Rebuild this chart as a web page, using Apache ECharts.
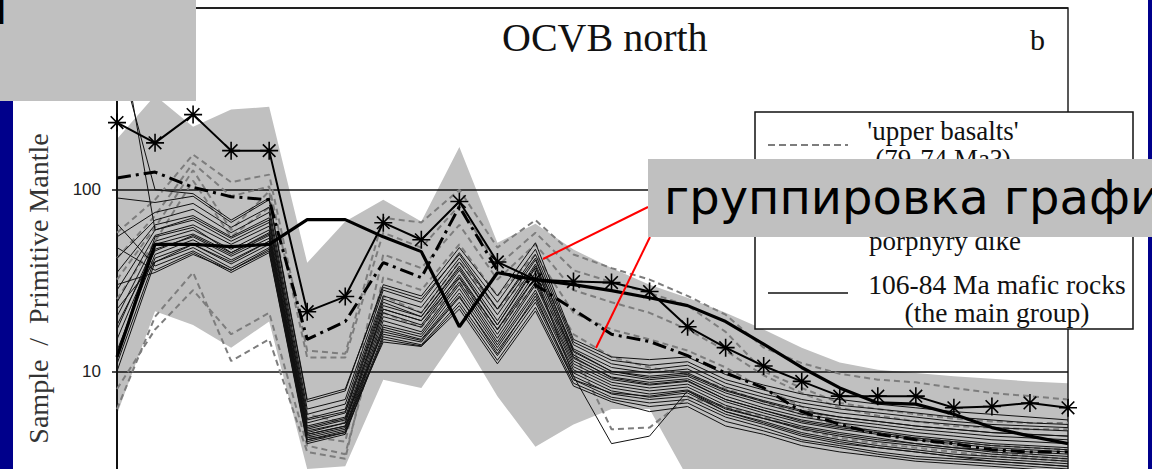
<!DOCTYPE html>
<html><head><meta charset="utf-8">
<script src="https://cdn.jsdelivr.net/npm/echarts/dist/echarts.min.js"></script>
<style>html,body{margin:0;padding:0;background:#fff;overflow:hidden}#c{width:1152px;height:469px}</style>
</head><body><div id="c"></div><script>
// ---- categories (primitive-mantle normalised elements) ----
const elements = ['Cs','Rb','Ba','Th','U','Nb','Ta','La','Ce','Pb','Pr','Sr','Nd','Zr','Hf','Sm','Eu','Gd','Tb','Dy','Y','Ho','Er','Tm','Yb','Lu'];
const yTicks = [1, 10, 100, 1000];
const yTickLabels = ['', '10', '100', '1000'];

// ---- grey comparison field (envelope) ----
const fieldUpper = [190, 330, 222, 276, 286, 39.6, 66.7, 88, 66.7, 172, 51, 65, 46.8, 37, 30, 25.4, 21, 17, 13.5, 11.2, 10.2, 9.8, 9.4, 9.1, 8.8, 8.6];
const fieldLower = [5.8, 21.4, 18, 13.5, 18.8, 2.9, 3.0, 9.0, 8.1, 16.3, 7.3, 3.85, 5.1, 6.2, 6.2, 2.6, 2.1, 1.9, 1.8, 1.7, 1.6, 1.6, 1.5, 1.5, 1.5, 1.5];

// ---- 106-84 Ma mafic rocks (the main group) ----
const m01 = [90, 85, 92, 66, 88, 6.8, 7.8, 30, 26, 48, 26, 51, 15, 12, 11.6, 12, 9.6, 8.4, 7.5, 7.0, 6.6, 6.3, 6.0, 5.8, 5.6, 5.4];
const m02 = [55, 75, 84, 62, 80, 6.2, 7.0, 28, 24, 45, 24, 47, 14.5, 11.5, 10.8, 11.3, 9.0, 7.9, 7.0, 6.5, 6.2, 5.9, 5.6, 5.4, 5.2, 5.1];
const m03 = [42, 68, 78, 58, 75, 5.8, 6.6, 26, 22.5, 42, 22, 44, 14, 11, 10.2, 10.8, 8.6, 7.5, 6.7, 6.2, 5.9, 5.6, 5.3, 5.1, 5.0, 4.9];
const m04 = [35, 64, 72, 55, 70, 5.5, 6.2, 25, 21, 40, 20.5, 41, 13.3, 10.5, 9.8, 10.3, 8.2, 7.2, 6.4, 5.9, 5.6, 5.3, 5.1, 4.9, 4.8, 4.7];
const m05 = [28, 60, 68, 52, 66, 5.2, 5.9, 23, 20, 38, 19, 39, 12.8, 10, 9.4, 9.8, 7.9, 6.9, 6.1, 5.6, 5.3, 5.0, 4.8, 4.6, 4.5, 4.4];
const m06 = [24, 56, 64, 50, 63, 5.0, 5.6, 22, 19, 36, 18, 37, 12.3, 9.7, 9.0, 9.4, 7.6, 6.6, 5.8, 5.4, 5.1, 4.8, 4.6, 4.4, 4.3, 4.2];
const m07 = [20, 52, 60, 47, 60, 4.8, 5.4, 21, 18, 34, 17, 35, 11.8, 9.3, 8.7, 9.1, 7.3, 6.3, 5.6, 5.2, 4.9, 4.6, 4.4, 4.2, 4.1, 4.0];
const m08 = [17, 50, 57, 45, 57, 4.7, 5.2, 20, 17.5, 32.5, 16, 33, 11.4, 9.0, 8.4, 8.8, 7.0, 6.1, 5.4, 5.0, 4.7, 4.4, 4.2, 4.0, 3.9, 3.8];
const m09 = [15, 47, 55, 43, 54, 4.5, 5.0, 19, 16.5, 31, 15.2, 31, 11.0, 8.7, 8.1, 8.5, 6.8, 5.9, 5.2, 4.8, 4.5, 4.2, 4.0, 3.8, 3.7, 3.6];
const m10 = [13, 44, 53, 41, 52, 4.4, 4.9, 18, 16, 30, 14.5, 30, 10.6, 8.4, 7.8, 8.2, 6.5, 5.7, 5.0, 4.6, 4.3, 4.0, 3.8, 3.7, 3.6, 3.5];
const m11 = [11, 42, 50, 39, 50, 4.3, 4.8, 17.5, 15.5, 28.5, 14, 28, 10.2, 8.1, 7.5, 7.9, 6.3, 5.5, 4.8, 4.4, 4.1, 3.9, 3.7, 3.5, 3.4, 3.3];
const m12 = [10, 40, 48, 37, 48, 4.2, 4.7, 17, 15, 27, 13.5, 27, 9.8, 7.8, 7.2, 7.6, 6.0, 5.3, 4.6, 4.2, 3.9, 3.7, 3.5, 3.4, 3.3, 3.2];
const m13 = [65, 38, 46, 36, 46, 4.1, 4.6, 16, 14.5, 25.5, 13, 25, 9.4, 7.5, 7.0, 7.3, 5.8, 5.1, 4.4, 4.0, 3.8, 3.6, 3.4, 3.3, 3.2, 3.1];
const m14 = [48, 36, 45, 35, 45, 4.0, 4.5, 15.5, 14, 24, 12.2, 24, 9.0, 7.2, 6.7, 7.0, 5.6, 4.9, 4.2, 3.9, 3.6, 3.4, 3.3, 3.2, 3.1, 3.0];
const m15 = [30, 35, 44, 36, 47, 4.2, 4.6, 15, 13.8, 23, 11.5, 22.5, 8.6, 7.0, 6.4, 6.7, 5.3, 4.7, 4.1, 3.8, 3.5, 3.3, 3.2, 3.1, 3.0, 2.9];
const m16 = [22, 40, 50, 40, 52, 4.5, 5.0, 14.5, 13.7, 22, 11, 21.5, 8.3, 6.8, 6.0, 6.4, 5.0, 4.5, 3.9, 3.6, 3.4, 3.2, 3.1, 3.0, 2.9, 2.8];
const m17 = [600, 100, 95, 68, 90, 7.0, 8.0, 29, 25, 44, 22, 42, 13, 10, 9.2, 9.6, 7.8, 6.8, 6.0, 5.6, 5.3, 5.0, 4.8, 4.6, 4.5, 4.4];
const m18 = [950, 60, 70, 54, 68, 5.4, 6.0, 24, 20, 37, 18, 38, 12, 9.2, 8.5, 8.9, 7.0, 6.1, 5.3, 4.9, 4.6, 4.3, 4.1, 3.9, 3.8, 3.7];
const m19 = [18, 46, 56, 44, 56, 4.6, 5.2, 22, 19, 33, 17, 33, 9.4, 4.0, 4.4, 7.8, 6.0, 5.2, 4.5, 4.1, 3.8, 3.6, 3.4, 3.2, 3.1, 3.0];
const m20 = [12, 55, 62, 45, 58, 4.9, 5.5, 16.5, 14.8, 26, 12.5, 26, 9.0, 7.6, 7.3, 7.8, 6.2, 5.5, 4.9, 4.5, 4.2, 4.0, 3.8, 3.6, 3.5, 3.4];
const mainGroup = [m01, m02, m03, m04, m05, m06, m07, m08, m09, m10, m11, m12, m13, m14, m15, m16, m17, m18, m19, m20];

// ---- 'upper basalts' (79-74 Ma?) ----
const u1 = [58, 88, 156, 110, 121, 13, 12.5, 70, 66, 100, 48, 68, 44, 37, 32, 26, 20.5, 13.5, 11.1, 9.7, 9.0, 8.7, 8.1, 7.6, 7.3, 7.0];
const u2 = [42, 72, 140, 92, 104, 11.9, 11.9, 58, 48, 82, 38, 58, 36, 31, 27, 23, 16.5, 10, 8.1, 6.7, 6.2, 5.8, 5.5, 5.3, 5.2, 5.2];
const u3 = [32, 62, 128, 60, 98, 5.8, 5.2, 44, 37, 64, 32, 50, 28, 24, 21, 17, 13, 9.5, 7.6, 6.3, 5.7, 5.3, 5.0, 4.9, 4.8, 4.8];
const u4 = [25, 52, 112, 55, 80, 4.4, 4.1, 33, 28, 50, 26, 44, 21, 17, 15, 13, 10.5, 8.0, 6.4, 5.2, 4.6, 4.2, 3.9, 3.6, 3.4, 3.3];
const u5 = [6.2, 20, 35, 11.4, 15, 3.6, 3.3, 26, 21, 40, 22, 37, 16, 12, 10.5, 9.6, 8.0, 6.8, 5.8, 5.0, 4.6, 4.3, 4.1, 3.9, 3.8, 3.7];
const u6 = [8.0, 17, 28, 16, 21, 3.9, 3.5, 21, 17.5, 31, 17, 30, 13, 4.8, 4.9, 7.2, 6.4, 5.6, 4.8, 4.3, 4.0, 3.8, 3.6, 3.4, 3.3, 3.2];
const upperBasalts = [u1, u2, u3, u4, u5, u6];

// ---- individual samples ----
const starSample = [234, 181, 259, 164, 164, 21.3, 25.8, 65.8, 53, 86, 40, 32, 31.2, 30.8, 27.5, 17.6, 13.5, 10.7, 8.8, 7.3, 7.3, 7.3, 6.3, 6.4, 6.7, 6.3];
const boldSample = [12, 50, 50, 48.6, 50, 68.4, 68.4, 55, 45.6, 17.6, 34.9, 32, 30, 27.8, 25.4, 23, 18.8, 14.1, 10.5, 8.1, 6.7, 6.6, 5.8, 4.9, 4.4, 4.0];
const porphyryDike = [116, 125, 103, 91.5, 88, 15, 18.8, 39.7, 32.8, 80.6, 36, 30, 21.9, 16, 14.6, 12.2, 9.8, 8.1, 6.0, 5.1, 4.5, 4.2, 4.0, 3.7, 3.6, 3.6];

const serif = '"Liberation Serif", "DejaVu Serif", serif';
const chart = echarts.init(document.getElementById('c'), null, {renderer: 'svg', width: 1152, height: 469});

const series = [];
series.push({
  type: 'custom', name: 'field', z: -1, silent: true, clip: true,
  data: fieldUpper.map((v, i) => [i, v]),
  encode: {x: 0, y: 1},
  renderItem: function (params, api) {
    if (params.dataIndex !== 0) return null;
    const pts = [];
    for (let i = 0; i < fieldUpper.length; i++) pts.push(api.coord([i, fieldUpper[i]]));
    for (let i = fieldLower.length - 1; i >= 0; i--) pts.push(api.coord([i, fieldLower[i]]));
    return {type: 'polygon', shape: {points: pts}, style: {fill: '#c0c0c0', stroke: null}};
  }
});
upperBasalts.forEach((d) => series.push({
  type: 'line', name: "'upper basalts'", data: d, symbol: 'none', silent: true, z: 3,
  lineStyle: {color: '#7d7d7d', width: 2, type: [6, 4]}
}));
mainGroup.forEach((d) => series.push({
  type: 'line', name: '106-84 Ma mafic rocks', data: d, symbol: 'none', silent: true, z: 4,
  lineStyle: {color: '#111', width: 1}
}));
series.push({
  type: 'line', name: 'porphyry dike', data: porphyryDike, symbol: 'none', silent: true, z: 5,
  lineStyle: {color: '#000', width: 3, type: [14, 5, 3, 5]}
});
series.push({
  type: 'line', name: 'bold sample', data: boldSample, symbol: 'none', silent: true, z: 5,
  lineStyle: {color: '#000', width: 3.2}
});
series.push({
  type: 'line', name: 'star sample', data: starSample, silent: true, z: 6,
  symbol: 'path://M10,0L10,20M0,10L20,10M3,3L17,17M3,17L17,3', symbolSize: 18,
  showAllSymbol: true,
  itemStyle: {color: '#000', borderColor: '#000', borderWidth: 1.6},
  lineStyle: {color: '#000', width: 2}
});

const option = {
  animation: false,
  backgroundColor: '#fff',
  grid: {left: 117, top: 8, width: 951, height: 545, outerBoundsMode: 'none', containLabel: false,
         show: true, borderColor: '#222', borderWidth: 1.5},
  xAxis: {
    type: 'category', data: elements, boundaryGap: false,
    axisLine: {lineStyle: {color: '#111', width: 1.5}},
    axisTick: {show: false}, splitLine: {show: false},
    axisLabel: {show: false}
  },
  yAxis: {
    type: 'log', logBase: 10, min: yTicks[0], max: yTicks[yTicks.length - 1],
    name: 'Sample  /  Primitive Mantle', nameLocation: 'middle', nameGap: 56,
    nameTextStyle: {fontFamily: serif, fontSize: 28, color: '#333', padding: [0, 16, 0, 0]},
    axisLine: {show: true, lineStyle: {color: '#111', width: 2}},
    axisTick: {show: true, length: 5, lineStyle: {color: '#111', width: 1.5}},
    splitLine: {show: true, lineStyle: {color: '#111', width: 1.6}},
    minorTick: {show: false},
    axisLabel: {color: '#222', fontFamily: '"Liberation Sans", Arial, sans-serif', fontSize: 17, margin: 16,
      formatter: v => { const k = yTicks.indexOf(v); return k >= 0 ? yTickLabels[k] : ''; }}
  },
  series: series,
  graphic: [
    {type: 'text', z: 60, left: 502, top: 17, style: {text: 'OCVB north', font: '40px ' + serif, fill: '#111'}},
    {type: 'text', z: 60, left: 1030, top: 24, style: {text: 'b', font: '30px ' + serif, fill: '#111'}},
    // legend box
    {type: 'rect', z: 50, shape: {x: 755, y: 112, width: 378, height: 217}, style: {fill: '#fff', stroke: '#111', lineWidth: 1.5}},
    {type: 'line', z: 51, shape: {x1: 768, y1: 145, x2: 848, y2: 145}, style: {stroke: '#7d7d7d', lineWidth: 2, lineDash: [7, 4]}},
    {type: 'text', z: 51, x: 943, y: 117, style: {text: "'upper basalts'\n(79-74 Ma?)", font: '27px ' + serif, lineHeight: 28, fill: '#111', align: 'center', verticalAlign: 'top'}},
    {type: 'text', z: 51, x: 945, y: 241, style: {text: 'porphyry dike', font: '27px ' + serif, fill: '#111', align: 'center', verticalAlign: 'middle'}},
    {type: 'line', z: 51, shape: {x1: 768, y1: 293, x2: 848, y2: 293}, style: {stroke: '#111', lineWidth: 1.5}},
    {type: 'text', z: 51, x: 997, y: 270, style: {text: '106-84 Ma mafic rocks\n(the main group)', font: '27.5px ' + serif, lineHeight: 28, fill: '#111', align: 'center', verticalAlign: 'top'}},
    // slide frame
    {type: 'rect', z: 90, shape: {x: 0, y: 0, width: 13, height: 469}, style: {fill: '#00008b'}},
    {type: 'rect', z: 90, shape: {x: 1148, y: 0, width: 4, height: 469}, style: {fill: '#00008b'}},
    // annotation overlays
    {type: 'rect', z: 100, shape: {x: 0, y: 0, width: 196, height: 101}, style: {fill: '#c0c0c0'}},
    {type: 'text', z: 101, x: -5, y: 13, style: {text: 'l', font: 'bold 32px "DejaVu Sans", sans-serif', fill: '#000', verticalAlign: 'middle'}},
    {type: 'line', z: 100, shape: {x1: 648, y1: 207, x2: 543, y2: 259}, style: {stroke: '#ff0000', lineWidth: 2}},
    {type: 'line', z: 100, shape: {x1: 650, y1: 237, x2: 596, y2: 348}, style: {stroke: '#ff0000', lineWidth: 2}},
    {type: 'rect', z: 100, shape: {x: 648, y: 159, width: 504, height: 78}, style: {fill: '#c0c0c0'}},
    {type: 'text', z: 101, x: 664, y: 197, style: {text: 'группировка графи', font: '48px "DejaVu Sans", sans-serif', fill: '#000', verticalAlign: 'middle'}}
  ]
};
chart.setOption(option);
</script></body></html>
